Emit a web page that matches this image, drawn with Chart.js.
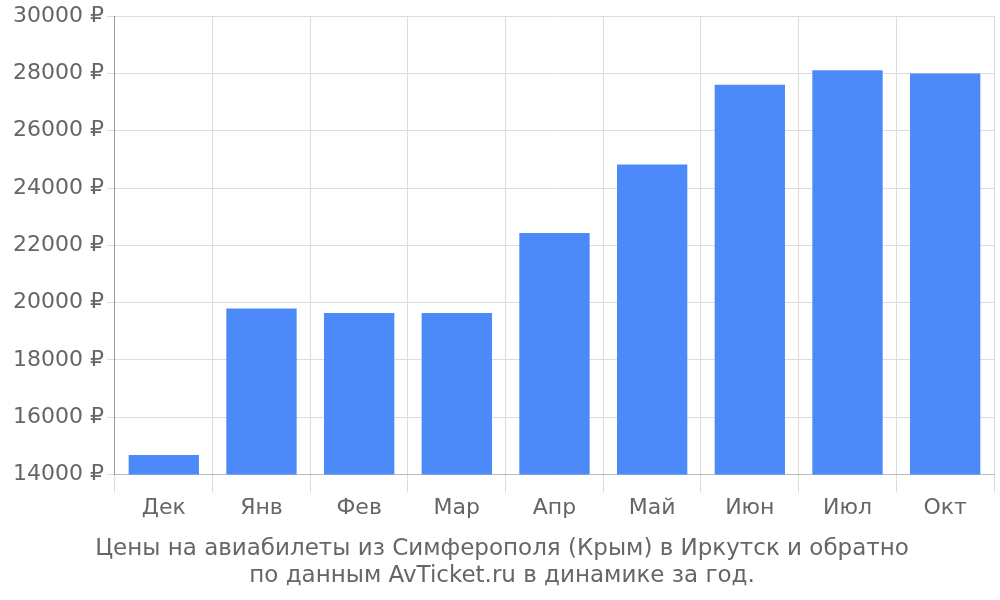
<!DOCTYPE html>
<html><head><meta charset="utf-8">
<script src="https://cdn.jsdelivr.net/npm/chart.js@4"></script>
<style>html,body{margin:0;padding:0;background:#fff}#w{width:1000px;height:600px}</style>
</head><body><div id="w"><canvas id="c"></canvas></div>
<script>
const categories = ["Дек","Янв","Фев","Мар","Апр","Май","Июн","Июл","Окт"];
const prices = [14680,19790,19640,19640,22430,24820,27610,28110,28000];
const titleLines = ["Цены на авиабилеты из Симферополя (Крым) в Иркутск и обратно","по данным AvTicket.ru в динамике за год."];
Chart.defaults.font.family = "'DejaVu Sans'";
new Chart(document.getElementById('c'), {
  type: 'bar',
  data: { labels: categories, datasets: [{ data: prices, backgroundColor: '#4d8af9', barPercentage: 0.72, categoryPercentage: 1 }] },
  options: {
    responsive: true, maintainAspectRatio: false, animation: false,
    layout: { padding: { right: 6, top: 4, left: 10 } },
    plugins: { legend: { display: false }, tooltip: { enabled: false },
      title: { display: true, position: 'bottom', text: titleLines, color: '#666', font: { size: 23, weight: 'normal' }, padding: { top: 10, bottom: 10 }, lineHeight: 1.1 } },
    scales: {
      x: { grid: { color: '#ddd', tickLength: 18 }, border: { color: '#bbb' }, ticks: { color: '#666', font: { size: 22 } } },
      y: { min: 14000, max: 30000, grid: { color: '#ddd' }, border: { color: '#999' },
        ticks: { stepSize: 2000, color: '#666', font: { size: 22 }, callback: v => v + ' ₽' } }
    }
  }
});
</script></body></html>
